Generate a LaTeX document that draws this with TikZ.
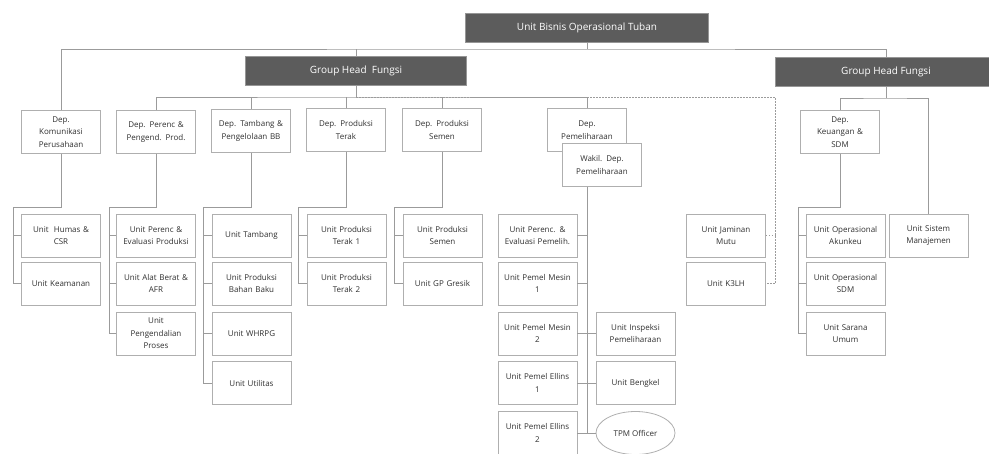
\documentclass[tikz,border=0pt]{standalone}
\usepackage{fontspec}
\setmainfont{Open Sans}
\usetikzlibrary{shapes.geometric}
\definecolor{headfill}{RGB}{92,92,92}
\definecolor{headline}{RGB}{150,150,150}
\definecolor{boxline}{RGB}{175,175,175}
\definecolor{linegray}{RGB}{155,155,155}
\definecolor{textgray}{RGB}{48,48,48}

\begin{document}
\begin{tikzpicture}[x=1pt,y=-1pt,line width=0.8pt,
    font=\fontsize{8}{12.5}\selectfont]
    \tikzstyle{every node}=[text=textgray]
    \tikzstyle{head}=[fill=headfill,draw=headline,text=white,minimum height=29pt,
      font=\fontsize{10}{11}\selectfont]
    \tikzstyle{box}=[draw=boxline,fill=white,minimum width=79pt,minimum height=43pt,
      text width=77pt,align=center,inner sep=1pt]
    \tikzstyle{oval}=[ellipse,draw=boxline,fill=white,minimum width=79pt,
      minimum height=43pt,inner sep=0pt]
    \tikzstyle{link}=[draw=linegray]
    \tikzstyle{dots}=[draw=linegray,dash pattern=on 1.5pt off 1.5pt]

    \useasboundingbox (0,0) rectangle (989,453);

    % top level
    \node[head,minimum width=243pt] (ubot) at (587,28) {Unit Bisnis Operasional Tuban};
    \node[head,minimum width=221pt] (ghfa) at (356,71) {Group Head~ Fungsi};
    \node[head,minimum width=222pt] (ghfb) at (886,72) {Group Head Fungsi};

    % departemen
    \node[box] (dkom) at (61,132)  {Dep.\\Komunikasi\\Perusahaan};
    \node[box] (dper) at (156,132) {Dep. Perenc \&\\Pengend. Prod.};
    \node[box] (dtam) at (251,131) {Dep. Tambang \&\\Pengelolaan BB};
    \node[box] (dter) at (346,130) {Dep. Produksi\\Terak};
    \node[box] (dsem) at (442,130) {Dep. Produksi\\Semen};
    \node[box] (dpem) at (587,130) {Dep.\\Pemeliharaan};
    \node[box] (wdp)  at (602,165) {Wakil. Dep.\\Pemeliharaan};
    \node[box] (dkeu) at (840,132) {Dep.\\Keuangan \&\\SDM};

    % unit
    \node[box] (uhum) at (61,235.5)  {Unit~ Humas \&\\CSR};
    \node[box] (ukea) at (61,283.5)  {Unit Keamanan};
    \node[box] (upep) at (156,235.5) {Unit Perenc \&\\Evaluasi Produksi};
    \node[box] (uabe) at (156,283.5) {Unit Alat Berat \&\\AFR};
    \node[box] (upp)  at (156,333.5) {Unit\\Pengendalian\\Proses};
    \node[box] (utam) at (251.5,235.5) {Unit Tambang};
    \node[box] (upbb) at (251.5,283.5) {Unit Produksi\\Bahan Baku};
    \node[box] (uwhr) at (251.5,333.5) {Unit WHRPG};
    \node[box] (uuti) at (251.5,383)   {Unit Utilitas};
    \node[box] (upt1) at (346.5,235.5) {Unit Produksi\\Terak 1};
    \node[box] (upt2) at (346.5,283.5) {Unit Produksi\\Terak 2};
    \node[box] (ups)  at (442.5,235.5) {Unit Produksi\\Semen};
    \node[box] (ugp)  at (442.5,283.5) {Unit GP Gresik};
    \node[box] (upe)  at (537.5,235.5) {Unit Perenc. \&\\Evaluasi Pemelih.};
    \node[box] (um1)  at (537.5,283.5) {Unit Pemel Mesin\\1};
    \node[box] (um2)  at (537.5,333.5) {Unit Pemel Mesin\\2};
    \node[box] (ue1)  at (537.5,383)   {Unit Pemel Ellins\\1};
    \node[box] (ue2)  at (537.5,433)   {Unit Pemel Ellins\\2};
    \node[box] (uins) at (635.5,333.5) {Unit Inspeksi\\Pemeliharaan};
    \node[box] (uben) at (635.5,383)   {Unit Bengkel};
    \node[oval] (tpm) at (635.5,433)   {TPM Officer};
    \node[box] (ujm)  at (726,235.5)   {Unit Jaminan\\Mutu};
    \node[box] (uk3)  at (726,283.5)   {Unit K3LH};
    \node[box] (uoa)  at (845.5,235.5) {Unit Operasional\\Akunkeu};
    \node[box] (uos)  at (845.5,283.5) {Unit Operasional\\SDM};
    \node[box] (usu)  at (845.5,333.5) {Unit Sarana\\Umum};
    \node[box] (usm)  at (928.5,235.5) {Unit Sistem\\Manajemen};

    % bus points
    \coordinate (b0) at (587,49);
    \coordinate (b1) at (356,97);
    \coordinate (b2) at (886,98);
    \coordinate (qa) at (775,97);
    \coordinate (r1) at (13,207);
    \coordinate (r2) at (109,207);
    \coordinate (r3) at (203,207);
    \coordinate (r4) at (298,207);
    \coordinate (r5) at (394,207);
    \coordinate (r6) at (798,207);

    % lines
    \draw[link] (ubot) -- (b0);
    \draw[link] (dkom.north) |- (b0) -| (ghfb.north);
    \draw[link] (ghfa.north) -- (ghfa.north |- b0);
    \draw[link] (ghfa.south) -- (b1);
    \draw[link] (dper.north) |- (b1) -| (dpem.north);
    \draw[link] (dtam.north) -- (dtam.north |- b1);
    \draw[link] (dter.north) -- (dter.north |- b1);
    \draw[link] (dsem.north) -- (dsem.north |- b1);
    \draw[dots] (b1) -- (qa) |- (uk3.east);
    \draw[dots] (ujm.east) -- (ujm.east -| qa);
    \draw[link] (ghfb.south) -- (b2);
    \draw[link] (dkeu.north) |- (b2) -| (usm.north);

    \draw[link] (dkom.south) |- (r1) |- (ukea.west);
    \draw[link] (r1 |- uhum) -- (uhum.west);
    \draw[link] (dper.south) |- (r2) |- (upp.west);
    \draw[link] (r2 |- upep) -- (upep.west);
    \draw[link] (r2 |- uabe) -- (uabe.west);
    \draw[link] (dtam.south) |- (r3) |- (uuti.west);
    \draw[link] (r3 |- utam) -- (utam.west);
    \draw[link] (r3 |- upbb) -- (upbb.west);
    \draw[link] (r3 |- uwhr) -- (uwhr.west);
    \draw[link] (dter.south) |- (r4) |- (upt2.west);
    \draw[link] (r4 |- upt1) -- (upt1.west);
    \draw[link] (dsem.south) |- (r5) |- (ugp.west);
    \draw[link] (r5 |- ups) -- (ups.west);
    \draw[link] (dkeu.south) |- (r6) |- (usu.west);
    \draw[link] (r6 |- uoa) -- (uoa.west);
    \draw[link] (r6 |- uos) -- (uos.west);

    \draw[link] (wdp.south -| dpem) -- (tpm.west -| dpem);
    \draw[link] (upe.east) -- (upe.east -| dpem);
    \draw[link] (um1.east) -- (um1.east -| dpem);
    \draw[link] (um2.east) -- (um2.east -| dpem);
    \draw[link] (ue1.east) -- (ue1.east -| dpem);
    \draw[link] (ue2.east) -- (ue2.east -| dpem);
    \draw[link] (uins.west) -- (uins.west -| dpem);
    \draw[link] (uben.west) -- (uben.west -| dpem);
    \draw[link] (tpm.west) -- (tpm.west -| dpem);
\end{tikzpicture}
\end{document}
